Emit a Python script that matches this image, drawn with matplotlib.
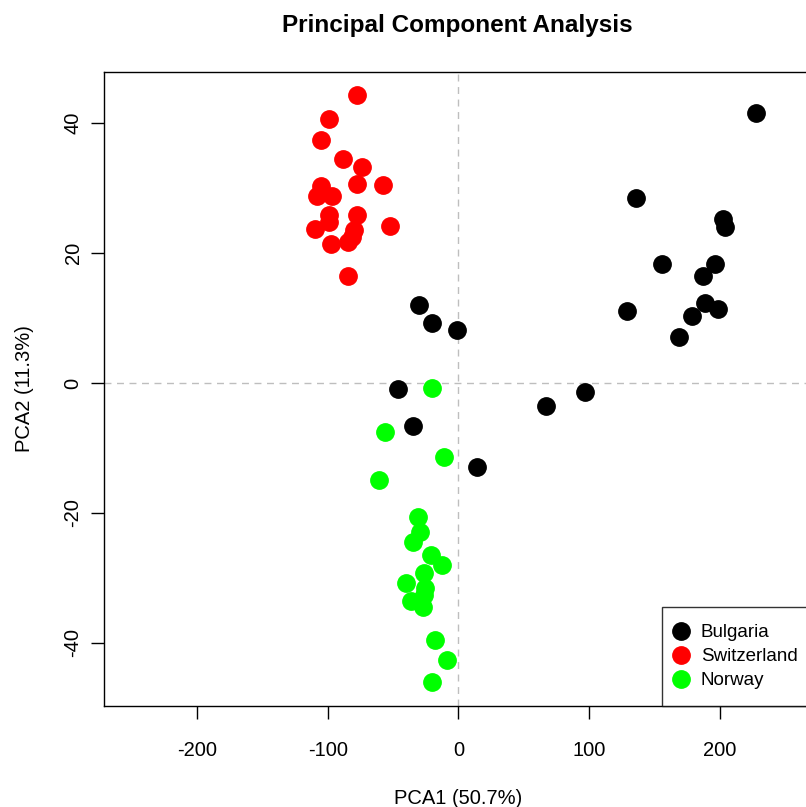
import matplotlib.pyplot as plt

plt.rcParams["font.family"] = ["Liberation Sans", "DejaVu Sans"]
plt.rcParams["axes.unicode_minus"] = False

# PCA scores
bulgaria_x = [227.2, 136.0, 202.2, 204.0, 155.6, 195.9, 187.0, 129.1, 188.2, 198.4,
              178.3, 168.3, 96.9, 66.6, -29.8, -20.1, -1.3, -46.4, -34.4, 14.3]
bulgaria_y = [41.5, 28.5, 25.2, 24.0, 18.3, 18.3, 16.4, 11.0, 12.3, 11.4,
              10.3, 7.0, -1.4, -3.5, 12.0, 9.2, 8.2, -1.0, -6.6, -12.9]

switzerland_x = [-77.5, -99.2, -105.0, -88.5, -73.7, -105.0, -77.5, -57.9, -108.4, -96.7,
                 -98.7, -77.5, -109.6, -98.7, -79.6, -52.3, -97.4, -84.7, -81.3, -84.7]
switzerland_y = [44.3, 40.6, 37.4, 34.5, 33.3, 30.3, 30.6, 30.5, 28.8, 28.8,
                 25.8, 25.8, 23.7, 24.8, 23.6, 24.2, 21.4, 21.7, 22.5, 16.4]

norway_x = [-20.1, -56.1, -11.2, -60.4, -30.6, -29.1, -35.0, -20.9, -12.8, -26.5,
            -40.0, -25.2, -26.0, -36.2, -26.8, -17.8, -9.0, -20.1]
norway_y = [-0.7, -7.5, -11.4, -15.0, -20.6, -22.9, -24.4, -26.5, -28.0, -29.3,
            -30.8, -31.6, -32.6, -33.6, -34.4, -39.6, -42.6, -46.0]

groups = ["Bulgaria", "Switzerland", "Norway"]
colors = ["#000000", "#FF0000", "#00FF00"]
xs = [bulgaria_x, switzerland_x, norway_x]
ys = [bulgaria_y, switzerland_y, norway_y]

fig = plt.figure(figsize=(8.06, 8.07), dpi=100)
ax = fig.add_axes([0.129, 0.1252, 0.878, 0.7856])

ax.axhline(0, color="#BEBEBE", linestyle=(0, (5, 4)), linewidth=1, zorder=1)
ax.axvline(0, color="#BEBEBE", linestyle=(0, (5, 4)), linewidth=1, zorder=1)

for name, col, x, y in zip(groups, colors, xs, ys):
    ax.plot(x, y, "o", color=col, markersize=12.5, label=name, zorder=3)

ax.set_xlim(-271, 270)
ax.set_ylim(-49.7, 47.85)
ax.set_xticks([-200, -100, 0, 100, 200])
ax.set_yticks([-40, -20, 0, 20, 40])
ax.tick_params(axis="both", direction="out", length=9.4, width=1, labelsize=14.5)
ax.tick_params(axis="x", pad=15.5)
ax.tick_params(axis="y", pad=6)
for lab in ax.get_yticklabels():
    lab.set_rotation(90)
    lab.set_va("center")
for s in ax.spines.values():
    s.set_linewidth(1)
    s.set_color("black")

ax.set_xlabel("PCA1 (50.7%)", fontsize=14.5, labelpad=21.5)
ax.set_ylabel("PCA2 (11.3%)", fontsize=14.5, labelpad=21)
ax.set_title("Principal Component Analysis", fontsize=17.5, fontweight="bold", pad=29)

# legend sits in the bottom-right corner, partly cut off like the original
leg = ax.legend(loc="lower right", bbox_to_anchor=(1.004, 0), borderaxespad=0,
                fancybox=False, fontsize=13.5, handletextpad=0.95, labelspacing=0.36,
                borderpad=0.9, handlelength=0.2)
leg.get_frame().set_edgecolor("black")
leg.get_frame().set_linewidth(1)

fig.savefig("out.png", dpi=100)
